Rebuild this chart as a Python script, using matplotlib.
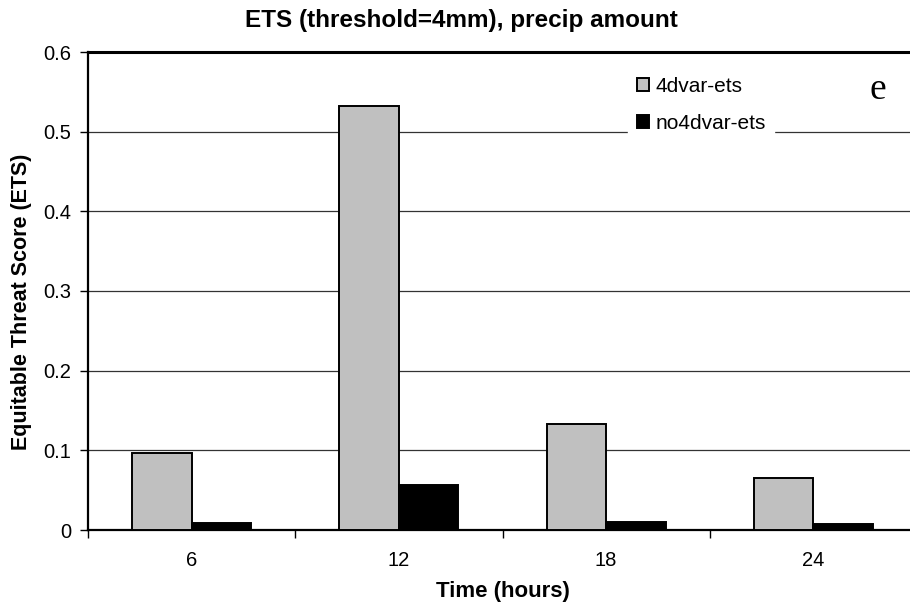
import matplotlib.pyplot as plt
import numpy as np

plt.rcParams['font.family'] = ['Liberation Sans', 'DejaVu Sans']

hours = ['6', '12', '18', '24']
ets_4dvar = [0.097, 0.532, 0.133, 0.065]
ets_no4dvar = [0.009, 0.056, 0.010, 0.008]

fig = plt.figure(figsize=(9.10, 6.02), dpi=100)
# axes runs a little past the right edge, as in the original scan
ax = fig.add_axes([88 / 910, 72 / 602, 829 / 910, 478 / 602])

x = np.arange(len(hours))
w = 0.287
ax.bar(x - w / 2, ets_4dvar, w, color='#c0c0c0', edgecolor='black', linewidth=1.4,
       label='4dvar-ets', zorder=3)
ax.bar(x + w / 2, ets_no4dvar, w, color='black', edgecolor='black', linewidth=1.4,
       label='no4dvar-ets', zorder=3)

ax.set_xlim(-0.5, 3.5)
ax.set_ylim(0, 0.6)
ax.set_yticks(np.arange(0, 0.61, 0.1))
ax.set_yticklabels(['0', '0.1', '0.2', '0.3', '0.4', '0.5', '0.6'])
ax.set_xticks(x)
ax.set_xticklabels(hours)
ax.set_xticks(np.arange(-0.5, 3.6, 1), minor=True)
ax.tick_params(axis='x', which='major', length=0, pad=15, labelsize=14.5)
ax.tick_params(axis='x', which='minor', length=6, width=1, direction='out')
ax.tick_params(axis='y', length=6, width=1, direction='out', pad=6, labelsize=14.5)

ax.yaxis.grid(True, color='#333333', linewidth=0.9, zorder=0)
ax.set_axisbelow(True)
ax.spines['right'].set_visible(False)
ax.spines['top'].set_linewidth(2.2)
ax.spines['left'].set_linewidth(1.6)
ax.spines['bottom'].set_linewidth(1.6)

ax.set_xlabel('Time (hours)', fontsize=16, fontweight='bold', labelpad=8)
ax.set_ylabel('Equitable Threat Score (ETS)', fontsize=15.5, fontweight='bold')
ax.yaxis.set_label_coords(-0.0675, 0.477)
fig.text(461 / 910, 1 - 21 / 602, 'ETS (threshold=4mm), precip amount',
         ha='center', va='center', fontsize=17.5, fontweight='bold')

leg = ax.legend(loc='upper left', bbox_to_anchor=(530 / 829, 1 - 6 / 478), frameon=True,
                fontsize=15, handlelength=0.58, handleheight=0.58, handletextpad=0.33,
                labelspacing=0.89, borderpad=0.4, fancybox=False)
leg.get_frame().set_edgecolor('white')
leg.get_frame().set_alpha(1)

ax.text(878 / 829 - 88 / 829, 1 - 38 / 478, 'e', transform=ax.transAxes,
        fontsize=27, family='Liberation Serif', ha='center', va='center')

plt.savefig('out.png', dpi=100)
